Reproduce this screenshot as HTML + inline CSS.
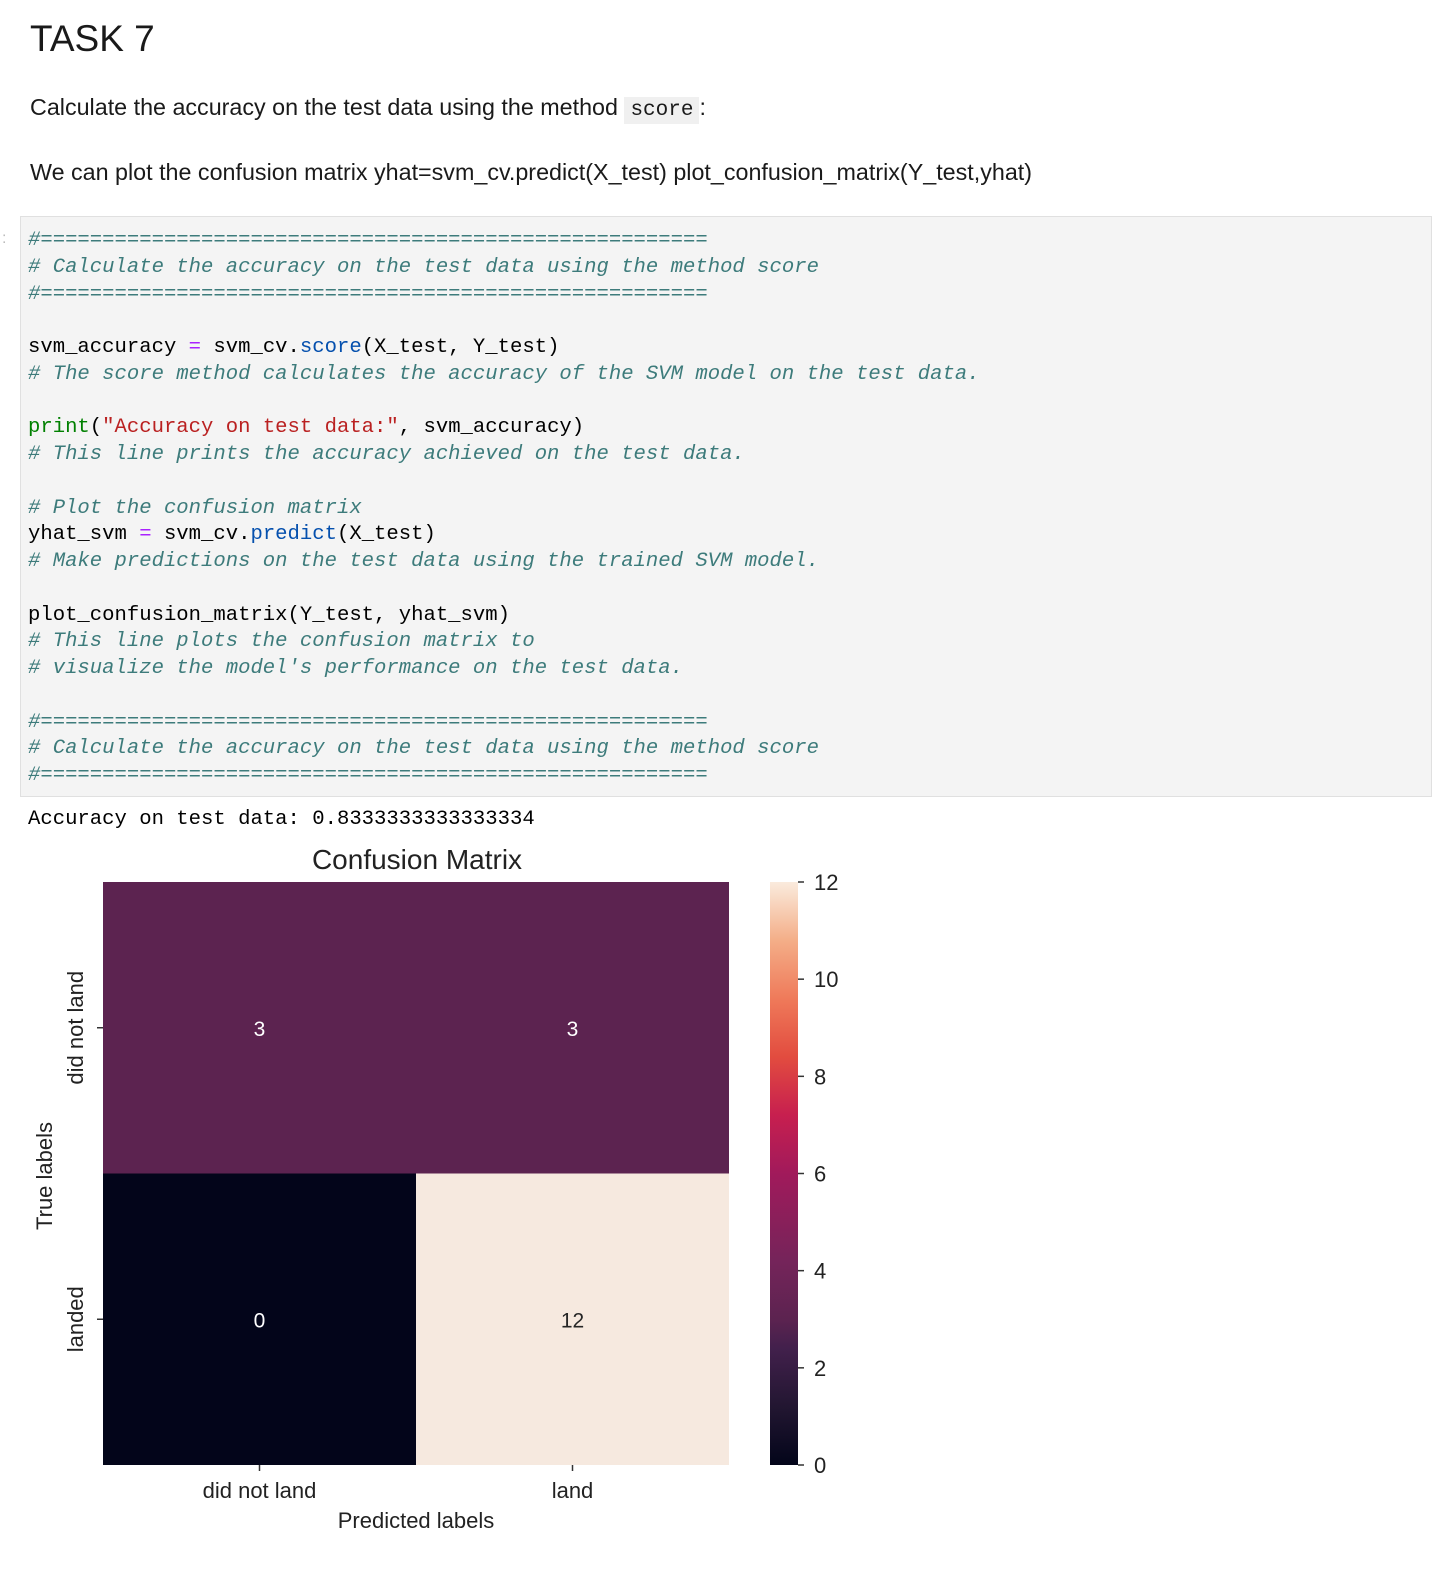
<!DOCTYPE html>
<html><head><meta charset="utf-8">
<style>
body{margin:0;width:1434px;height:1570px;background:#fff;position:relative;overflow:hidden;font-family:"Liberation Sans",sans-serif;color:#1a1a1a}
.abs{position:absolute}
.code{position:absolute;left:20px;top:216px;width:1412px;height:581px;background:#f4f4f4;border:1px solid #e0e0e0;box-sizing:border-box}
pre{margin:0;position:absolute;left:28px;top:228px;font-family:"Liberation Mono",monospace;font-size:20.6px;line-height:26.75px;color:#000}
.c{color:#3d7b7b;font-style:italic}
.k{color:#008000}.s{color:#ba2121}.f{color:#0550ae}.o{color:#aa22ff}
code.i{font-family:"Liberation Mono",monospace;background:#f0f0f0;padding:2px 6px;font-size:21px}
</style></head><body>
<div class="abs" style="left:30px;top:18px;font-size:37px;">TASK 7</div>
<div class="abs" style="left:30px;top:94px;font-size:23.3px;">Calculate the accuracy on the test data using the method <code class="i">score</code>:</div>
<div class="abs" style="left:30px;top:159px;font-size:23.3px;">We can plot the confusion matrix yhat=svm_cv.predict(X_test) plot_confusion_matrix(Y_test,yhat)</div>
<div class="abs" style="left:2px;top:230px;color:#bbb;font-size:16px">:</div>
<div class="code"></div>
<pre><span class="c">#======================================================
# Calculate the accuracy on the test data using the method score
#======================================================</span>

svm_accuracy <span class="o">=</span> svm_cv.<span class="f">score</span>(X_test, Y_test)
<span class="c"># The score method calculates the accuracy of the SVM model on the test data.</span>

<span class="k">print</span>(<span class="s">"Accuracy on test data:"</span>, svm_accuracy)
<span class="c"># This line prints the accuracy achieved on the test data.</span>

<span class="c"># Plot the confusion matrix</span>
yhat_svm <span class="o">=</span> svm_cv.<span class="f">predict</span>(X_test)
<span class="c"># Make predictions on the test data using the trained SVM model.</span>

plot_confusion_matrix(Y_test, yhat_svm)
<span class="c"># This line plots the confusion matrix to
# visualize the model's performance on the test data.</span>

<span class="c">#======================================================
# Calculate the accuracy on the test data using the method score
#======================================================</span></pre>
<pre style="top:807px">Accuracy on test data: 0.8333333333333334</pre>

<svg class="abs" style="left:0;top:0" width="1434" height="1570">
<defs><linearGradient id="rk" x1="0" y1="1" x2="0" y2="0">
<stop offset="0" stop-color="#03051a"/><stop offset="0.1" stop-color="#221631"/><stop offset="0.2" stop-color="#42204c"/>
<stop offset="0.25" stop-color="#5c2350"/><stop offset="0.35" stop-color="#75245a"/><stop offset="0.5" stop-color="#a11a5b"/>
<stop offset="0.6" stop-color="#c71f4f"/><stop offset="0.7" stop-color="#e24c3f"/><stop offset="0.8" stop-color="#ef7a5a"/>
<stop offset="0.9" stop-color="#f4ae88"/><stop offset="1" stop-color="#faebdd"/></linearGradient></defs>
<g id="cells"></g>
<text x="417" y="869" font-size="28" text-anchor="middle" fill="#222">Confusion Matrix</text>
<text x="416" y="1528" font-size="22" text-anchor="middle" fill="#222">Predicted labels</text>
<text transform="translate(52,1176) rotate(-90)" font-size="22" text-anchor="middle" fill="#222">True labels</text>
<rect x="770" y="882" width="28" height="583" fill="url(#rk)"/>
<g id="cbt"></g>
</svg>
<script>
const xLabels=["did not land","land"];
const yLabels=["did not land","landed"];
const matrix=[[3,3],[0,12]];
const cbTicks=[0,2,4,6,8,10,12];
const vmin=0,vmax=12;
const stops=[[0,"#03051a"],[0.1,"#221631"],[0.2,"#42204c"],[0.25,"#5c2350"],[0.35,"#75245a"],[0.5,"#a11a5b"],[0.6,"#c71f4f"],[0.7,"#e24c3f"],[0.8,"#ef7a5a"],[0.9,"#f4ae88"],[1,"#f6e9df"]];
function hx(c){return [1,3,5].map(i=>parseInt(c.substr(i,2),16));}
function cmap(v){let t=(v-vmin)/(vmax-vmin);for(let i=1;i<stops.length;i++){if(t<=stops[i][0]){const a=stops[i-1],b=stops[i];const u=(t-a[0])/(b[0]-a[0]);const A=hx(a[1]),B=hx(b[1]);return "rgb("+A.map((x,k)=>Math.round(x+(B[k]-x)*u)).join(",")+")";}}return stops[stops.length-1][1];}
const X0=103,X1=729,Y0=882,Y1=1465;
const cw=(X1-X0)/xLabels.length,ch=(Y1-Y0)/yLabels.length;
const xs=i=>X0+i*cw, ys=j=>Y0+j*ch;
const cbY=v=>Y1-(v-vmin)/(vmax-vmin)*(Y1-Y0);
const NS="http://www.w3.org/2000/svg";
const g=document.getElementById('cells');
function mk(t,a,p){const e=document.createElementNS(NS,t);for(const k in a)e.setAttribute(k,a[k]);p.appendChild(e);return e;}
matrix.forEach((row,j)=>row.forEach((v,i)=>{
 const r=mk('rect',{x:xs(i),y:ys(j),width:cw,height:ch,fill:cmap(v)},g);
 
 
 const t=mk('text',{x:xs(i)+cw/2,y:ys(j)+ch/2+8,'font-size':21,'text-anchor':'middle',fill:v>6?'#262626':'#ffffff'},g);
 t.textContent=v;
 
 
}));
xLabels.forEach((l,i)=>{
 const cx=xs(i)+cw/2;
 mk('line',{x1:cx,x2:cx,y1:Y1,y2:Y1+6,stroke:'#333','stroke-width':1.5},g);
 const t=mk('text',{x:cx,y:Y1+33,'font-size':22,'text-anchor':'middle',fill:'#222'},g);
 t.textContent=l;
 
 
});
yLabels.forEach((l,j)=>{
 const cy=ys(j)+ch/2;
 mk('line',{x1:X0-6,x2:X0,y1:cy,y2:cy,stroke:'#333','stroke-width':1.5},g);
 const t=mk('text',{transform:`translate(${X0-20},${cy}) rotate(-90)`,'font-size':22,'text-anchor':'middle',fill:'#222'},g);
 t.textContent=l;
 
 
});
const cb=document.getElementById('cbt');
cbTicks.forEach(v=>{
 const y=cbY(v);
 mk('line',{x1:798,x2:804,y1:y,y2:y,stroke:'#333','stroke-width':1.5},cb);
 const t=mk('text',{x:814,y:y+8,'font-size':22,fill:'#222'},cb);
 t.textContent=v;
 
 
});
</script>
</body></html>
